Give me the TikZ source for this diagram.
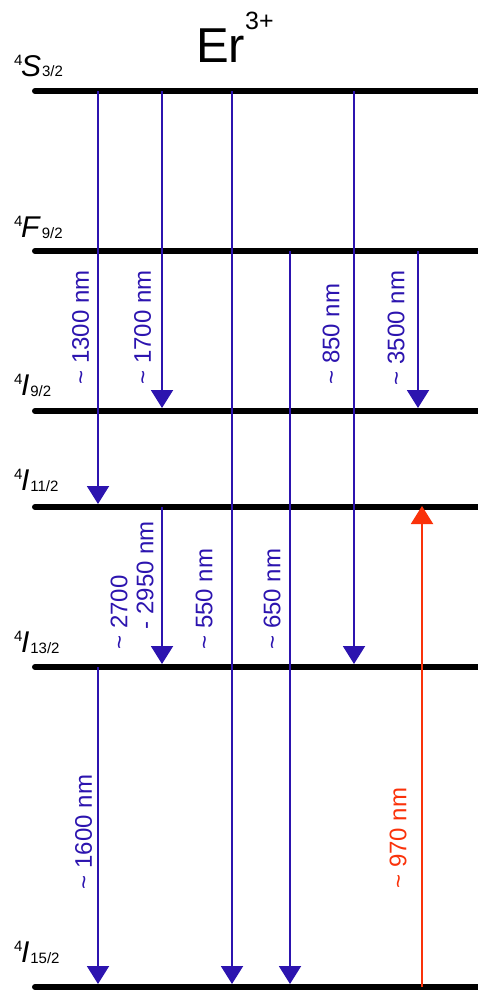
\documentclass[tikz,border=0pt]{standalone}
\usepackage{fontspec}
\setmainfont{Liberation Sans}
\usetikzlibrary{arrows.meta}
\definecolor{tblue}{RGB}{44,20,175}
\definecolor{tred}{RGB}{250,50,10}
\newcommand{\lvl}[2]{\raisebox{10.6pt}{\fontsize{15}{15}\selectfont 4}\kern-1.5pt{\fontsize{30}{30}\selectfont\textit{#1}}\kern1pt\raisebox{-1pt}{\fontsize{15}{15}\selectfont #2}}
\tikzset{
  level/.style={line width=6pt, line cap=round, black},
  trans/.style={line width=2pt, tblue, -{Triangle[width=22pt,length=18pt]}},
  pump/.style={line width=2pt, tred, -{Triangle[width=22pt,length=18pt]}},
  wl/.style={rotate=90, inner sep=0pt, font=\fontsize{24}{24}\selectfont, text=tblue},
  wlr/.style={wl, text=tred},
  lbl/.style={anchor=base west, inner sep=0pt}
}
\begin{document}
\begin{tikzpicture}[x=1pt,y=-1pt]
\useasboundingbox (0,0) rectangle (478,990);
% level lines
\draw[level] (35,91) coordinate (s1) -- (482,91) coordinate (s2);
\draw[level] (35,251) coordinate (f1) -- (482,251) coordinate (f2);
\draw[level] (35,411) coordinate (a1) -- (482,411) coordinate (a2);
\draw[level] (35,507) coordinate (b1) -- (482,507) coordinate (b2);
\draw[level] (35,667) coordinate (c1) -- (482,667) coordinate (c2);
\draw[level] (35,987) coordinate (g1) -- (482,987) coordinate (g2);
% level labels
\node[lbl] (ls) at (14,76) {\lvl{S}{3/2}};
\node[lbl] (lf) at (14,237) {\lvl{F}{9/2}};
\node[lbl] (la) at (14,395) {\lvl{I}{9/2}};
\node[lbl] (lb) at (14,490) {\lvl{I}{11/2}};
\node[lbl] (lc) at (14,652) {\lvl{I}{13/2}};
\node[lbl] (lg) at (14,962) {\lvl{I}{15/2}};
% title
\node[lbl] (title) at (196,63) {\fontsize{49}{49}\selectfont Er\raisebox{33pt}{\fontsize{25}{25}\selectfont 3+}};
% arrow end points
\coordinate (t1) at (98,91);   \coordinate (h1) at (98,504);
\coordinate (t2) at (162,91);  \coordinate (h2) at (162,408);
\coordinate (t3) at (232,91);  \coordinate (h3) at (232,984);
\coordinate (t4) at (354,91);  \coordinate (h4) at (354,664);
\coordinate (t5) at (290,251); \coordinate (h5) at (290,984);
\coordinate (t6) at (418,251); \coordinate (h6) at (418,408);
\coordinate (t7) at (162,507); \coordinate (h7) at (162,664);
\coordinate (t8) at (98,667);  \coordinate (h8) at (98,984);
\coordinate (t9) at (422,987); \coordinate (h9) at (422,506);
\draw[trans] (t1) -- (h1);
\draw[trans] (t2) -- (h2);
\draw[trans] (t3) -- (h3);
\draw[trans] (t4) -- (h4);
\draw[trans] (t5) -- (h5);
\draw[trans] (t6) -- (h6);
\draw[trans] (t7) -- (h7);
\draw[trans] (t8) -- (h8);
\draw[pump] (t9) -- (h9);
% wavelength labels
\node[wl] (w1) at (80.5,327.5) {\textasciitilde\ 1300 nm};
\node[wl] (w2) at (142.5,327.5) {\textasciitilde\ 1700 nm};
\node[wl] (w3) at (331,334) {\textasciitilde\ 850 nm};
\node[wl] (w4) at (396,328) {\textasciitilde\ 3500 nm};
\node[wl] (w5) at (119,612.5) {\textasciitilde\ 2700};
\node[wl] (w6) at (145,575) {- 2950 nm};
\node[wl] (w7) at (204,599) {\textasciitilde\ 550 nm};
\node[wl] (w8) at (272,599) {\textasciitilde\ 650 nm};
\node[wl] (w9) at (83.5,832) {\textasciitilde\ 1600 nm};
\node[wlr] (w10) at (398,838) {\textasciitilde\ 970 nm};
\end{tikzpicture}
\end{document}
